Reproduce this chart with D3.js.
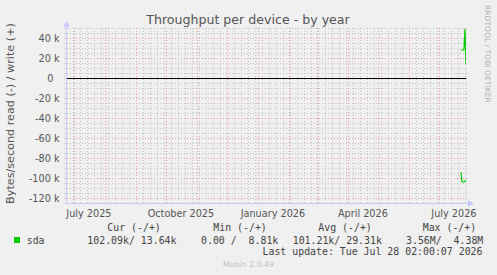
<!DOCTYPE html>
<html><head><meta charset="utf-8">
<script src="https://cdn.jsdelivr.net/npm/d3@7"></script>
<style>
html,body{margin:0;padding:0;background:#f0f0f0;}
svg{display:block;}
text{white-space:pre;}
</style></head>
<body>
<svg id="c" width="497" height="275"></svg>
<script>
// ---------- data ----------
const title = "Throughput per device - by year";
const yAxisTitle = "Bytes/second read (-) / write (+)";
const endTime = "2026-07-28T02:00:07Z";
const spanDays = 400;
const dates = ["2026-07-23", "2026-07-24", "2026-07-25", "2026-07-26", "2026-07-27", "2026-07-28T02:00:07Z"];
const readValues  = [94000, 104000, 104000, 104000, 103500, 102090];
const writeValues = [28000, 28000, 28000, 28000, 49000, 13640];
const yTicks = [40000, 20000, 0, -20000, -40000, -60000, -80000, -100000, -120000];
const yTickLabels = ["40 k", "20 k", "0", "-20 k", "-40 k", "-60 k", "-80 k", "-100 k", "-120 k"];
const xLabelMonths = ["2025-07-01", "2025-10-01", "2026-01-01", "2026-04-01", "2026-07-01"];
const xLabels = ["July 2025", "October 2025", "January 2026", "April 2026", "July 2026"];
const seriesName = "sda";
const legendHeaders = ["Cur (-/+)", "Min (-/+)", "Avg (-/+)", "Max (-/+)"];
const legendValues = ["102.09k/ 13.64k", "0.00 /  8.81k", "101.21k/ 29.31k", "3.56M/  4.38M"];
const lastUpdate = "Last update: Tue Jul 28 02:00:07 2026";
const watermark = "RRDTOOL / TOBI OETIKER";
const footer = "Munin 2.0.49";

// ---------- layout ----------
const L = {left: 66, right: 466, top: 28, bottom: 203};
const headerX = [107.3, 213.3, 318.3, 422.7];
const valueX = [87.3, 201, 292.7, 406];
const sans = "'DejaVu Sans', sans-serif";
const mono = "'DejaVu Sans Mono', monospace";
const green = "#00cc00";

const svg = d3.select("#c");
svg.append("rect").attr("width", 497).attr("height", 275).attr("fill", "#f0f0f0");

const end = new Date(endTime);
const start = new Date(end.getTime() - spanDays * 86400000);
const x = d3.scaleUtc().domain([start, end]).range([L.left, L.right]);
const y = d3.scaleLinear().domain([-125000, 50000]).range([L.bottom, L.top]);

const g = svg.append("g");
const minorCol = "#c4c4c4", majorCol = "#e8a0a0";

// minor horizontal grid every 5k
const minorY = d3.range(-125000, 50001, 5000).filter(v => v % 20000 !== 0);
g.selectAll(".hmin").data(minorY).enter().append("line")
  .attr("x1", L.left - 2).attr("x2", L.right + 2)
  .attr("y1", d => Math.round(y(d)) + 0.5).attr("y2", d => Math.round(y(d)) + 0.5)
  .attr("stroke", minorCol).attr("stroke-dasharray", "1,2");
// minor vertical grid (weekly)
const weeks = d3.utcMonday.range(start, end);
g.selectAll(".vmin").data(weeks).enter().append("line")
  .attr("x1", d => Math.round(x(d)) + 0.5).attr("x2", d => Math.round(x(d)) + 0.5)
  .attr("y1", L.top).attr("y2", L.bottom + 2)
  .attr("stroke", minorCol).attr("stroke-dasharray", "1,2");
// major horizontal grid
g.selectAll(".hmaj").data(yTicks).enter().append("line")
  .attr("x1", L.left - 2).attr("x2", L.right + 2)
  .attr("y1", d => Math.round(y(d)) + 0.5).attr("y2", d => Math.round(y(d)) + 0.5)
  .attr("stroke", majorCol).attr("stroke-dasharray", "1,2");
// major vertical grid (monthly)
const months = d3.utcMonth.range(start, end);
g.selectAll(".vmaj").data(months).enter().append("line")
  .attr("x1", d => Math.round(x(d)) + 0.5).attr("x2", d => Math.round(x(d)) + 0.5)
  .attr("y1", L.top).attr("y2", L.bottom + 2)
  .attr("stroke", majorCol).attr("stroke-dasharray", "1,2");

// zero line
svg.append("line").attr("x1", L.left).attr("x2", L.right)
  .attr("y1", Math.round(y(0)) + 0.5).attr("y2", Math.round(y(0)) + 0.5)
  .attr("stroke", "#000").attr("stroke-width", 1);

// axes
const axisCol = "#c8c8ff";
svg.append("line").attr("x1", L.left + 0.5).attr("x2", L.left + 0.5).attr("y1", L.top - 2).attr("y2", L.bottom + 0.5).attr("stroke", axisCol);
svg.append("line").attr("x1", L.left).attr("x2", L.right + 3).attr("y1", L.bottom + 0.5).attr("y2", L.bottom + 0.5).attr("stroke", axisCol);
svg.append("path").attr("d", `M${L.left - 3},${L.top - 1}L${L.left + 0.5},${L.top - 7}L${L.left + 4},${L.top - 1}Z`).attr("fill", axisCol);
svg.append("path").attr("d", `M${L.right + 2},${L.bottom - 3}L${L.right + 8},${L.bottom + 0.5}L${L.right + 2},${L.bottom + 4}Z`).attr("fill", axisCol);

// data lines
const pts = dates.map((d, i) => ({t: new Date(d), r: readValues[i], w: writeValues[i]}));
svg.append("clipPath").attr("id", "clip").append("rect")
  .attr("x", L.left).attr("y", L.top).attr("width", L.right - L.left).attr("height", L.bottom - L.top);
const lineW = d3.line().x(d => x(d.t)).y(d => y(d.w));
const lineR = d3.line().x(d => x(d.t)).y(d => y(-d.r));
svg.append("path").datum(pts).attr("d", lineW).attr("fill", "none").attr("stroke", green).attr("stroke-width", 1.2).attr("clip-path", "url(#clip)");
svg.append("path").datum(pts).attr("d", lineR).attr("fill", "none").attr("stroke", green).attr("stroke-width", 1.2).attr("clip-path", "url(#clip)");

// y tick labels
svg.selectAll(".yl").data(yTicks).enter().append("text")
  .attr("x", (d, i) => yTickLabels[i].includes("k") ? 59.5 : 53.5)
  .attr("y", d => y(d) + 3.5)
  .attr("text-anchor", "end").attr("font-family", sans).attr("font-size", 9.7).attr("fill", "#555")
  .text((d, i) => yTickLabels[i]);

// x labels (centered mid-month)
svg.selectAll(".xl").data(xLabelMonths).enter().append("text")
  .attr("x", d => x(d3.utcDay.offset(new Date(d), 15)))
  .attr("y", 216.5)
  .attr("text-anchor", "middle").attr("font-family", sans).attr("font-size", 9.7).attr("fill", "#555")
  .text((d, i) => xLabels[i]);

// title
svg.append("text").attr("x", 248).attr("y", 24).attr("text-anchor", "middle")
  .attr("font-family", sans).attr("font-size", 12.6).attr("fill", "#555").text(title);

// y axis title
svg.append("text").attr("transform", "translate(14,113.5) rotate(-90)").attr("text-anchor", "middle")
  .attr("font-family", sans).attr("font-size", 11.2).attr("fill", "#555").text(yAxisTitle);

// watermark
svg.append("text").attr("transform", "translate(484.5,5) rotate(90)").attr("text-anchor", "start")
  .attr("font-family", sans).attr("font-size", 7.6).attr("fill", "#b0b0b0").text(watermark);

// legend
svg.selectAll(".lh").data(legendHeaders).enter().append("text")
  .attr("x", (d, i) => headerX[i]).attr("y", 230.5)
  .attr("font-family", mono).attr("font-size", 9.9).attr("fill", "#444").text(d => d);
svg.append("rect").attr("x", 14).attr("y", 237).attr("width", 6).attr("height", 6).attr("fill", green);
svg.append("text").attr("x", 26.7).attr("y", 243.5).attr("font-family", mono).attr("font-size", 9.9).attr("fill", "#444").text(seriesName);
svg.selectAll(".lv").data(legendValues).enter().append("text")
  .attr("x", (d, i) => valueX[i]).attr("y", 243.5)
  .attr("font-family", mono).attr("font-size", 9.9).attr("fill", "#444").text(d => d);
svg.append("text").attr("x", 482.5).attr("y", 255.3).attr("text-anchor", "end")
  .attr("font-family", mono).attr("font-size", 9.9).attr("fill", "#444").text(lastUpdate);
svg.append("text").attr("x", 248.5).attr("y", 266.5).attr("text-anchor", "middle")
  .attr("font-family", sans).attr("font-size", 7.8).attr("fill", "#c0c0c0").text(footer);
</script>
</body></html>
